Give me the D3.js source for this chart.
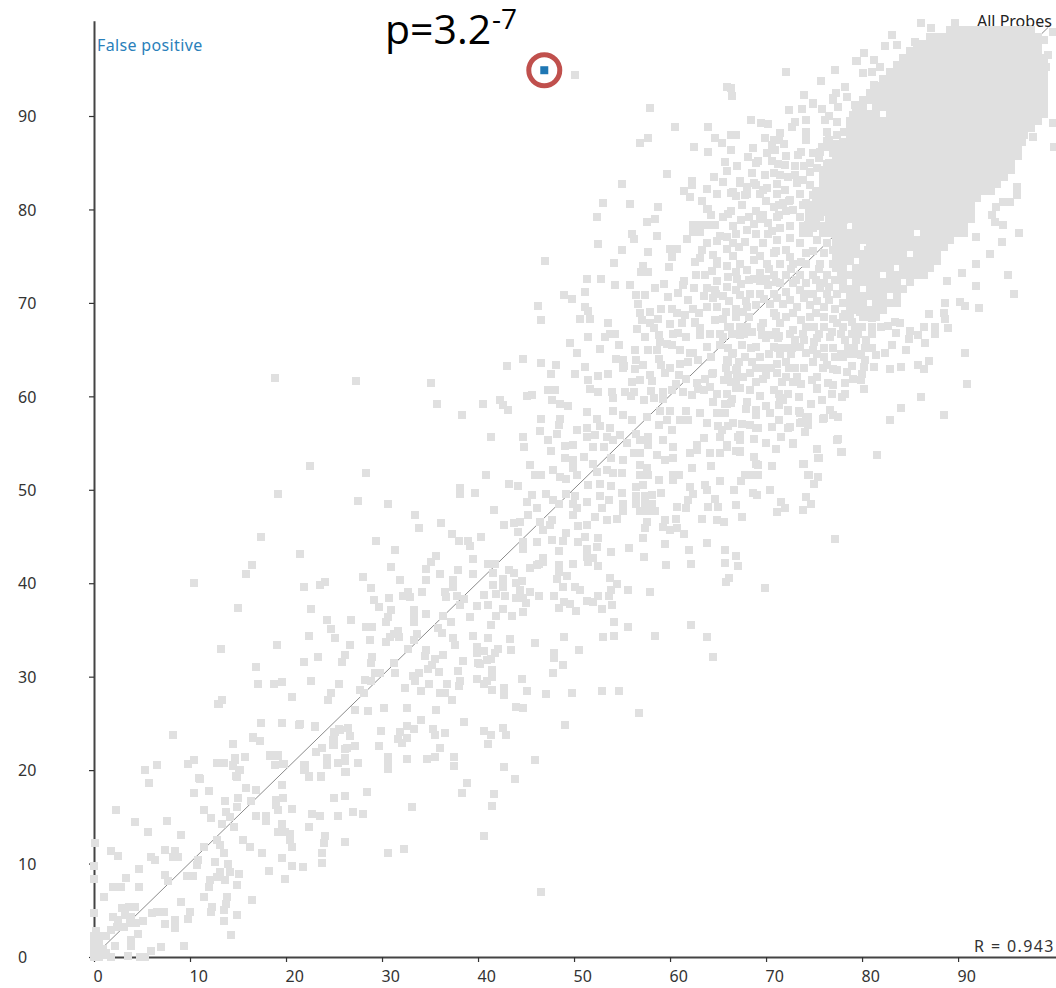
<!DOCTYPE html>
<html><head><meta charset="utf-8">
<script src="https://cdn.jsdelivr.net/npm/d3@7"></script>
<style>html,body{margin:0;padding:0;background:#fff;overflow:hidden}svg{display:block}</style>
</head><body><svg id="c" width="1056" height="988"></svg>
<script>
const xTicks=[0,10,20,30,40,50,60,70,80,90];
const yTicks=[0,10,20,30,40,50,60,70,80,90];
const falsePositive=[46.9,94.9];
const rValue="R = 0.943";
const pLabel="p=3.2";
const pExponent="-7";
const seriesName="All Probes";
const highlightName="False positive";
const identityLine=[[0.8,0.9],[99.4,99.5]];
// flat x,y lists
const cornerProbes=[0,2.2,0.5,2.2,0,1.6,0.5,1.5,0,1,0.6,0.9,0.9,0.9,0,0.4,0.5,0.4,1,0.2,0,0,0.5,0,1.3,0.4,0.2,2.8,1.8,0,3.5,0.1,4.8,0,5.3,0,2.2,1.2,3.9,1.8,3.9,1.2,7,1.1,9.4,1.2,5.9,0.6,0,4.7,2.9,5.2,3.6,5.4,4.3,5.4,2,4.3,2.5,4,3.2,4.5,3.9,4.3,2.4,3.2,3.1,3.2,3.8,3.6,4.4,3.6,5.1,3.8,6,4.7,6.6,4.8,7.3,4.8,4.6,2.5,1.2,2.3,1.8,2.9,7.4,3.5,8.4,4,8.4,3.1,10,4.8,9.75,4.1,46.6,7];
const lowProbes=[12.95,27.1,8.26,23.8,17.4,25,19.6,25,21.4,24.8,23,24.6,14.5,22.8,16.6,23.4,17.3,23.1,6.6,20.5,5.3,20,5.7,18.6,10.4,21.1,9.75,20.7,11,19.1,10.4,17.6,12,17.8,12.8,20.8,13.5,20.8,14.7,21.1,14.5,20.4,15.7,21.4,15.1,20,14.9,19.3,18.3,21.5,19.2,21.5,18.9,20.5,19.8,20.7,25.1,24.1,24.9,23.2,24.9,22.7,25.6,24.3,23.8,22.4,23.1,21.9,24.3,21.1,24.3,20.5,25.4,20.8,26.1,21,21.9,20.5,21.9,20,22.4,19.3,23.6,19.3,26.1,19.8,26.1,22.3,19.6,18.4,15.8,18.1,16.9,17.9,15,17,13.6,16.7,16.4,16.7,14.9,16,11.5,15.7,12.2,14.9,13.8,15.5,14.2,15,2.3,15.7,4.3,14.4,7.6,14.6,5.6,13.4,9.1,13.1,13.3,14.2,14.6,13.9,16.9,15.1,17.9,15.1,17.9,14.6,19,16.8,19.7,17,19,16.3,19.2,15.7,20.6,15.8,22.7,15.3,23.5,15.1,25.4,15.1,25,17,26.1,17.2,19.6,14.2,19.2,13.4,19.9,13.4,20.4,13.2,20.4,12.5,20.6,11.8,22.4,13.9,24.1,12.9,24,12.2,23.8,11.1,23.8,10.1,26.1,12.3,12.8,12.5,13.1,12,11.5,11.8,13.5,11.1,15.5,12.5,16.2,11.8,17.5,11.1,19.6,10.6,20.6,9.7,21.8,9.6,18.2,9.2,19.9,8.3,10.8,10.4,10.7,9.8,12.6,10.2,14,9.9,14.2,9.1,15.1,8.9,13.1,9.1,12.8,8.6,12.1,8.2,13.6,8.2,12,7.5,14.9,7.7,7.4,11.4,8.4,11.3,8.2,10.7,8.8,10.7,5.9,10.7,6.4,10.4,1.8,11.3,2.5,10.8,0.1,12.2,0,9.7,0,8.3,4.7,9.4,3.3,8.5,7.4,8.8,7.7,8.1,9.65,8.7,10.3,8.7,2,7.5,2.8,7.5,4.7,7.5,1,6.4,9.1,5.9,11.5,6.4,13.9,6.4,13.8,5.7,13.5,5,12.3,5.4,12.2,4.8,16.5,6.1,14.9,4.5,13.5,3.8,14.3,2.4];
const midLowProbes=[19.2,49.5,27.5,48.8,30.6,48.5,33.4,47.3,36.1,46.4,33.8,45.9,38.1,50.2,38.1,49.6,39.7,49.7,37.3,45.3,38,44.5,39,44.5,39.2,44,17.4,45,29.4,44.5,31.4,43.6,21.5,43.1,35.6,42.9,35.1,42.3,39.5,42.6,16.5,41.9,15.8,41,30.9,41.7,34.6,41.5,36,41,37.9,41.4,39.5,41,28,40.7,31.9,40.3,34.6,40.3,10.4,40,21.9,39.6,23.5,39.8,24.1,40.1,28.9,39.5,37.4,40.3,37.4,39.6,34.2,39.1,32.7,39.1,32.2,38.6,32.9,38.5,30.7,38.4,29.2,38.2,36.6,39.1,36.7,38.5,37.8,38.6,38.5,38.3,38.1,37.7,29.7,37.5,15,37.3,22.6,37.2,30.9,37.1,33.3,37.1,33.3,36.5,33.3,35.9,34.6,36.7,39.9,37.6,30.6,36.4,30.4,35.8,24.3,36.1,26.8,36.1,36.3,36.5,39.2,36.4,37.2,35.8,28.3,35.3,29,35.3,24.7,35.1,35.8,35.2,36.2,34.7,31.7,34.9,31.2,34.6,31.8,34.2,30.8,34.2,33.6,34.6,22.4,34.4,39.5,34.4,25.1,34.1,28.7,33.9,30.4,33.7,33.3,33.9,37.4,34.1,37.6,33.4,19.1,33.4,26.7,33.4,13.2,33,32.7,33,39.9,33.2,34.6,32.9,26.1,32.3,23.3,32.1,29,32.1,34.5,32.2,36.3,32.3,39.9,32.5,21.9,31.6,25.8,31.6,28.8,31.5,31.2,31.5,35.5,31.9,35.2,31.3,38.4,31.7,40,31.5,16.9,31,34.8,30.8,35.9,30.5,37.9,30.6,29.8,30.4,29.3,30.4,31.3,30.4,33.8,30.4,33.2,30.1,33.4,29.5,22.6,29.5,28.2,29.6,28.9,29.5,39.9,29.7,38.1,29.5,17.1,29.2,18.8,29.2,19.6,29.4,25.5,29.2,34.9,29.2,36.8,29.2,38,29,27.7,28.6,32.4,28.8,34.1,28.5,24.7,28.2,28.1,28.2,36,28.2,36.6,28.2,20.6,27.8,24.4,27.5,37.3,27.5,13.3,27.5,13,27.1,27.2,26.4,28.5,26.3,30.2,26.6,32.6,26.6,35.6,26.4,34.1,25.4,38.5,25.2,17.4,25,19.6,25,21.5,24.9,23,24.7,32.6,24.7,26.5,24.5,25.5,24.4,25,24.1,26.7,23.6,25,23.4,25,22.7,29.9,24.2,33.3,24.4,31.9,24.1,31.7,23.3,32.6,23.4,32.1,22.9,35.3,24.4,35.5,23.8,36.6,24,16.6,23.5,17.3,23.1,14.5,22.8,29.7,22.6,36,22.4,27.2,22.6,26.4,22.4,23.8,22.4,23.1,21.9,18.3,21.6,19.2,21.6,15.7,21.4,14.7,21.3,26.1,21.3,24.3,21.3,24.3,20.5,25.4,20.8,27.5,20.8,30.6,21.4,30.6,20.7,30.6,20.1,32.6,21.2,34.7,21.2,35.5,21.4,37.5,21.4,37.5,20.4,12.8,20.8,13.5,20.8,10.4,21.1,9.8,20.7,14.5,20.5,15.2,20,18.9,20.5,19.7,20.7,22,20.5,22,20,22.4,19.4,23.6,19.4,26.2,19.8,10.9,19.2,14.8,19.4];
const midProbes=[41,42.1,41.8,42.1,43.2,41.4,43.7,41.1,45.4,41.6,46.1,42,46.8,42.3,48.4,42,48.4,41.2,48.2,40.5,49.9,42.1,49.3,40.8,51.5,42.3,52.5,41.8,53.7,40.6,54.5,39.9,53.9,39.3,55.6,39.3,53.6,38.6,41.6,41.1,42.6,40.4,42.6,39.6,41.6,39.8,40.6,38.7,41.9,38.9,42.8,38.6,44,40,44.6,40.2,44.4,39.3,44,38.4,44.7,38.4,45.4,39.1,45,37.9,46.3,38.6,47.9,38.6,48.9,39.6,50.1,39.6,50.6,39.3,52.5,38.6,51.3,38.1,52,38,49,38,49.6,37.8,48.4,37.4,50.2,37,52.9,37.2,54,37.7,41,37.7,42.6,37.2,41.9,36.5,43.5,36.5,44.7,36.9,41.4,35.5,54.2,35.8,55.6,35.3,54.2,34.4,53,34.2,49,34.2,43.3,34,41,34.1,45.9,33.6,50.5,32.9,43.4,32.9,42.1,33,41.8,32.5,40.6,32.7,40.9,31.8,41.4,31.9,47.9,32.5,47.9,32,48.8,31.3,40.2,31.4,47.8,30.4,41.5,30.7,41.5,30,44.6,29.7,40.9,29.5,40.6,29.2,41.5,28.6,42.7,28.8,42.7,28,45.1,28.5,47.1,28.1,49.8,28.3,52.9,28.5,54.7,28.5,44,26.8,44.7,26.6,56.8,26.1,49.1,24.8,40.6,24.2,41.4,23.8,42.6,24.5,42.9,23.8,41,22.8,45.9,21.1,42.7,20.3,43.9,19.1,38.8,18.6,38.3,17.6,41.7,17.4,41.5,16.2,33.1,16,28.4,17.7,26.1,17.2,27,15.5,28,15.3,40.6,13,26.1,12.3,32.3,11.6,30.6,11.1,18.9,62,22.5,52.5,27.3,61.6,28.3,51.8,35.1,61.4,35.7,59.2,47,74.5,46.2,69.7,46.6,68.2,49,70.8,64.5,32.1,50.1,94.4];
const centreProbes=[49.6,65.7,50.3,64.6,52.7,65.1,54.7,65.5,43,63.2,44.7,64,46.6,63.6,48.1,63.4,47.6,62.4,50.1,62.4,51.1,63.1,51.5,61.8,52.5,62.2,53.5,62.4,54.4,64,55.1,63.9,55.1,63,56.5,63.9,56.3,62.9,57.2,63.4,57.7,65,58.6,65,58.8,64,60.2,65.5,61,65,62.4,64.6,63.8,65.3,65.2,65.5,66.6,64.6,59.1,63.4,60,63,61,63.5,61.9,63.7,62.9,63.9,64.3,64.2,65.9,63.9,66.9,62.8,57.9,62.3,59.5,62.5,60.9,62.3,61.7,61.9,62.8,61.4,64.5,62.5,65.6,61.7,66.9,61.4,56,61.5,56.9,61.7,58.1,61.6,47.3,60.7,48,60.7,51.7,60.8,52.5,60.5,45.1,60,45.6,60.1,54,60.5,54.1,59.8,55.3,60.5,55.9,60,57.3,59.6,58.3,59.8,59.3,60.5,60.2,60.7,59.3,59.7,61.4,60.5,62.3,60.1,63.5,60.7,64.5,59.4,65.9,60.3,65.9,59.2,40.5,59.2,42.3,59.6,42.6,59.1,43.1,58.5,47.7,59.6,48.5,59.2,49.4,59,38.3,58,46.6,57.6,48.5,57.6,48.4,56.9,48.2,56,46.5,56.3,41.3,55.6,44.7,55.6,44.8,54.6,47.3,55.3,47.6,54.2,51.3,58.3,52.4,57.6,54.1,58.4,55.1,58,56,57.5,57.6,57.8,59,58.4,60,58.4,61.7,58.4,63.1,58.2,64.9,58.2,59.7,57.5,61,57.5,58.8,56.9,60.2,56.4,61.9,57.5,63.8,57.1,65,56.8,66.6,57.2,50.3,56.4,51.3,56.6,52.7,56.8,53.7,56.6,51.3,55.7,52.2,55.9,53.4,55.7,54.8,55.9,56.5,56,57.7,55.7,52,54.6,53.1,54.6,54.1,55.3,55.5,55,56.9,55.3,57.7,54.8,59.3,55.3,60.3,54.6,63.5,55.5,62.8,54.8,65.2,55.7,65.9,54.8,67.1,55.7,49.1,54.7,49.9,54.8,49.1,53.4,49.9,53.2,51,53.5,45.4,52.6,47.8,52.1,45.9,51.6,46.6,51.6,40.8,51.6,49.9,52.3,48.5,51.4,49.2,51.2,50.3,51.6,52,52.8,52.4,51.9,53.4,52.1,54.1,51.8,55,51.8,53.8,53.4,55.1,53.2,56.2,53.9,56.9,53.9,56.9,52.7,57.6,52.3,58.6,53.7,59.5,53.2,60.3,53.4,56.9,51.6,57.7,51.6,58.8,51.1,60.3,51.6,60.9,51.6,62.3,52.3,64.3,52.5,62.1,53.9,62.8,54.3,64.2,53.9,65.2,53.9,66.9,54.1,43.2,50.6,44.2,50.4,51.5,50.5,52.7,50.6,53.9,50.4,56.5,50.3,57.2,50.5,60.3,51,62.1,50.3,63.6,50.5,65.2,50.9,66.7,50,63.8,50,62.4,49.6,49.2,49.6,50.1,49.3,51.3,48.7,52.7,49.3,53.6,48.9,55,49.7,59.1,49.7,56.5,49.3,57.4,49.3,58.1,49.4,56.5,48.5,57.4,48.5,58.1,48.5,56.9,47.7,57.7,47.7,58.4,47.7,60.7,48.2,61.9,48.9,61.7,48,64.7,49,64,48.2,65,48.2,66.9,48.4,45.6,49.4,45.1,48.7,47.1,49.6,47.8,48.9,46.1,48,48.4,48.5,49.9,48.5,50.3,48,41.7,47.8,45.2,47.3,49.9,47.3,52.9,48,55.1,48.5,55.1,47.7,52.2,47.1,44.4,46.6,43.7,46.4,42.7,46.2,46.5,46.6,47.7,46.8,47.5,46.2,53.4,46.8,54.5,46.9,57.6,46.6,60.6,46.9,59.5,46.8,63.3,46.9,64.9,46.8,65.6,46.6,44.2,45.5,46.8,45.7,50.4,46.1,51.3,46.2,57.4,45.9,59.3,46,60,45.7,60.7,45.9,61.5,45.3,57.2,44.8,40.3,45,49.2,45.4,47.7,44.6,48.9,44.5,50.4,44.4,51.1,45,52.5,44.8,46.1,44.4,44.7,44.4,44.7,43.7,51.3,43.7,52.4,43.9,48.4,43.4,53.9,43.3,55.7,43.8,59.5,44.2,63.8,44.3,62,43.6,65.7,43.6,66.9,42.9,57.3,42.8,51.3,42.8,52,42.7,46.8,42.7,46.3,42.1,59.6,41.9,62.2,42.1,65.7,42.2,67.1,41.8,66.1,40.6,65.8,40.1,57.9,39.1,62.2,35.5,58.4,34.4,63.8,34.2,72.8,54.9,75.3,54.4,75.5,53.4,77.9,54,74,52.8,74.5,51.6,75,50.6,74.2,49.2,74.7,48.5,73.8,47.8,77.2,44.7,70.6,52.5,69.2,52.7,68.7,53.5,67.3,54,67.8,51.6,68.6,51.6,69.2,51.6,67.4,50.9,70.4,50,68.6,49.7,69.1,49.4,71.6,48.7,72,48.1,71.1,47.6,67.5,47.1,69.9,39.5];
const upperProbes=[53,80.7,55.8,80.6,58.7,80.3,52.4,79.2,57.6,78.7,58.4,79,56,77.4,56.2,76.8,58.6,77.2,52.5,76.3,55,75.7,57.7,75.5,60,75.8,60.7,75.8,60.2,74.9,54.2,74.3,57.2,74,57,73.3,57.7,73.3,59.9,73.8,51.3,72.6,52.8,72.6,54.3,71.9,55.8,71.9,61.3,71.9,62.5,71.6,51.1,71.2,49.8,70.4,56.5,70.8,57.4,70.8,56.7,69.9,59.8,70.6,61.9,70.3,51.1,69.6,51.5,69.1,50.6,68.3,51.7,68.3,59.1,69.4,60.2,69.4,60.7,68.9,56.9,68.9,57.9,69,57.1,68.2,61.6,68.7,62.4,69.4,53.5,67.9,56.6,67.2,57.9,67.8,58.9,66.6,61.2,67.8,57.4,66.3,53.7,66.7,53.2,66.4,54.3,66.7,51.5,66.4,60.3,66.7,61.7,66.4,63.1,67.3,63.1,66.6,64.7,68.2,65.5,68.3,64.2,66.7,65.2,66.7,66.2,67.4,67.3,67.4,67.3,66.6,68.5,66.9,70.4,66.6,69.7,67.8,71.5,67.8,72.1,68.5,70.8,68.9,72.8,67.1,74.2,67.4,75.3,66.2,76.7,66.4,77.4,67.8,63.8,80.1,62.4,78.3,63.1,78.3,63.8,78.3,62.4,77.6,63.1,77.6,64.7,78.3,65.5,79.2,66.6,78.2,67.5,80.5,68.2,79.2,69,79.8,69.4,79,70.8,80.3,71.8,80.7,72.8,79.9,73.9,80.5,74.9,79.9,71.1,79.2,73.5,79.2,75.6,79.2,65.9,77,66.9,77.4,68,77.8,69,77.4,70.2,77.4,71.5,78,72.5,78.2,73.9,77.8,74.9,78,76,77.8,77,78.5,63.8,76.4,64.9,76.6,63.3,75.7,63.1,74.8,64.5,75.1,65.9,75.8,66.6,76.4,67.8,76.5,66.6,75,68.7,75.7,69.7,76.4,71.1,76.7,72.5,76.9,73.5,76.4,75.3,76.7,76.3,76.4,70.8,75.3,72.1,75.7,74.2,75.3,76,75.3,77,75.7,64.9,74.2,65.9,74,67.3,74.2,68.7,74.6,70.1,74.2,71.5,74.2,72.8,74.2,74.2,74.2,75.6,74.2,77,74.2,66.9,73.3,68,73.5,69.4,73.2,70.8,73,72.1,73,73.5,73,74.9,73,76.3,73,69.4,72.3,70.2,71.9,71.5,72.1,72.8,72.1,74.2,72.1,76,72.1,77.2,72.4,64.9,72.3,63.8,71.6,64.7,71.4,65.9,71.7,66.9,71.4,63.5,70.7,64.5,70.5,65.5,70.7,67.3,70.8,68.3,71,69.4,71,70.8,71,72.1,71.2,73.5,71.4,74.9,71,76.3,71,77.4,71,63.8,69.6,64.9,69.6,66.9,69.4,68,69.6,69,69.8,70.4,69.9,71.8,69.9,73.2,69.6,74.6,69.8,76,69.6,77.2,69.4,66.9,68.5,68.2,68.5,74.6,68.5,76,68.5,67.5,65.5,69,65.3,70.8,65.3,67.8,64.2,69.4,64.2,71.1,63.5,72.1,63.7,73.5,65.3,74.9,65,76,64.2,77.2,64.2,74.9,63.7,76.3,63.4,77.4,62.8,75.3,62.1,74.8,61.7,76.5,61.4,75.3,60.9,67.6,62.1,68.3,62.5,69.7,61.9,71.1,62.5,72.1,62.1,73.2,62.1,66.9,60.9,68.3,60.7,69.4,60,70.8,60.7,71.5,59.8,71.3,59.1,72.3,60.3,75.8,59.6,76.7,58.5,77.5,57.8,75.9,57.6,69,58.5,70.4,58.2,72.3,58.5,73.4,58.4,74.2,57.6,68.3,56.9,69.2,56.6,70.6,56.7,72.5,56.7,73.5,57.1,74.1,56.2,72.8,55,75.3,54.4,77.4,55.3,75.4,53.4,73.9,52.8,70.6,52.5,68.7,53.5,69,52.8,67.3,55.9,67.3,55.3,67.3,54.1,74.4,51.6,75.4,51.4,66,67.4,68,67.4,69.5,67.4,71,66.9,73.8,66.7,75,67.4,76,67.4,78,67.4,79.3,67.4,80,67.4,81,67.4,82,67.4,66.5,66.7,67.7,66.7,70,66.2,71.2,66.2,72.5,66.7,74,66,75.5,66.7,77.8,66.7,78.9,66.7,79.6,66.7,81,66.7,78.2,66,79.4,66,80.4,66,66,65.2,68.4,65.2,71.2,65.2,72.7,65.2,74.2,64.6,76,65.2,77,65.2,78.5,65.2,79.2,65.2,80.3,65.2,81,65.2,66.5,64.5,70.3,64.5,71.5,64.5,72.6,64.5,75.3,64.5,77.8,64.5,78.6,64.5,79.5,64.5,66,63.7,67.2,63.7,68.5,63.7,69.7,63,73,63,74,63,75.9,63,65.8,63,67,63,70.5,63,66,62.3,67,62.3,70,62.3,66.4,61.5,69,61.5,71.7,61.5,72.8,61.5];
const topProbes=[72.1,94.7,77.2,94.9,75.7,93.8,79.4,95.9,78.2,93.1,65.9,93.1,66.3,93,66.5,92.1,74,92.3,74.9,91.4,77,91.7,77.5,91,79.3,91.2,57.9,90.9,68.4,89.6,69.5,89.3,70.2,89.1,73.7,90.7,74.2,89.6,73,89.4,72.7,88.8,76.1,89.6,77.4,89.4,79.1,90.1,60.5,88.8,64,88.8,74.2,88.3,74.2,87.4,76.3,88.3,77.4,88,78.1,88.3,57.7,87.6,56.9,87.1,64.7,87.6,65.4,87.1,66.3,88,66.9,88,69.9,87.7,70.8,87.4,71.3,87.4,71.9,87,70.6,86.9,62.5,86.7,66.3,86.4,64,86.2,70.9,86.4,70.1,86,72.1,85.7,73.3,85.8,73.6,86.2,74.9,86,75.8,86.7,76.7,86.7,75.6,86.2,77.9,86.7,77,86,65.7,85.1,65.9,84.1,59.7,83.8,68.5,83.9,69.9,83.7,70.8,83.9,71.5,83.7,73,84.6,73,83.7,75.3,84.4,76.3,84.9,77.4,84.9,55,82.7,62.3,83,62.3,82.6,61.5,82,62.1,81.3,63.8,82.2,64.9,81.7,67.3,82.8,66.4,81.8,66.9,81.4,68.7,82.8,69.7,82.1,71.1,82.7,71.1,81.7,68,81.7,69.4,81.7,73.2,82.8,74.6,82.6,76,83,73.5,81.7,72.5,81,74.2,80.7,66.6,81.9,68,82.4,69,82.6,70.1,82.3,72,82.1,71.3,80.5,72.1,79.8,86.1,100,87.2,99.4,89.7,100,83.1,98.7,82.4,97.5,83.6,97.6,85.5,97.9,80.2,96.7,79.5,95.9,81.2,96,81.9,95.2,81,94.7,80.1,94.6,82.7,93.9,81.2,93.3,77,91.9,74.9,91.3,74,92.2,99.4,96.5,99.2,95.2,99.9,89.3,97.8,87.8,100,86.7,98.9,98.1,99.9,99];
const rightProbes=[96.1,82.4,96.1,81.5,94,80.3,93.5,79.4,93.8,78.7,94.7,78.3,95.4,80.8,94.7,80.8,96.3,77.5,94.6,76.5,91.9,77.1,93.3,75.2,91.9,74.2,95.2,73,90.4,73.2,91.9,71.8,95.8,70.9,88.8,72.3,90.2,70.1,90.7,69.7,92.2,69.5,88.6,70,88.5,68.9,87,68.8,88.6,68.3,87.6,67.4,87.6,66.7,89,67.3,86.5,67.4,85.8,66.6,86.6,65.7,83.4,68,83.1,65.5,82.4,64.6,84.6,65,90.7,64.6,87,63.8,85.8,63.4,86.5,62.9,84.1,63.1,82.9,62.9,81.2,63.1,80.2,63.1,80.3,63.9,78.9,63.2,90.9,61.3,86.1,59.9,84.1,58.7,88.5,58,82.9,57.5,79.9,61.7,80.2,60.8,79.1,61.9,78.2,61.4,78.2,60.3,77,61.2,75.3,60.8,74.8,61.8,75.8,59.6,76.7,58.5,77,58,76,57.7,77.5,55.4,75.3,54.4,77.8,54,81.6,53.7,75.5,53.4,73.9,52.8,74.4,51.6,72.8,54.9,68,51.6,68.7,51.6,74.4,56.9,73.7,57.3,74.4,57.8,73.5,58.2,72.3,58.4,72.3,56.6,70.6,56.7,69,56.6,70.4,58.2,69,58.5,69,58,71.3,57.5,71.8,59.6,71.3,60.3,69.4,60,68.3,60.7,67.3,60.9,65.9,60.3,65.7,59.2,65.7,58.2,66.6,57.1,65.4,56.4,65.9,54.6,79,68,79.8,69,81,68.4,82.7,67.5,84,67.8,85,67,83.5,66.8,84.9,66.1];
const thickProbes=[67,72.6,68.2,72.4,70,72.6,71,72.2,73.1,72.5,75.2,72.4,67.9,70.2,69.8,70.4,71.1,70.5,72.5,70.3,74,70.5,75.3,70.2,76.6,70.3,65.8,69,67.6,69,71,68.6,72.8,68.9,73.6,68.2,75.2,68.9,77,68.3,78.2,68.8,65.5,66.4,69.6,66.6,71.4,66.5,73,66,76.9,66.9,72,65.2,75,65.8,78,64.2,79.9,64.4,81.5,64.4,69,63,72.4,63,77,62.9,78.4,62.6,80,62.4,73.6,61.3,76.9,60.2,77.9,59.9,64.4,62.4,64.2,61,66.5,59.7,68,59.4,70,59,73.4,59.9,74.7,59.2,66,56.8,71.6,55.6,65.2,77.2,64.3,79.4,66.4,79.8,67.4,78.9,67.8,81.6,70,80.9,72.4,80.9,71.4,79.4,70.2,78.6,68.7,78.4,67.2,76,69.4,75,70.3,73.6,72.6,73.6,74.9,75.6,73.6,74.4,75.5,73.6,76.6,71.7,75.6,71.6,74.4,70.9,72.5,74.9,71,75.6,70.6,77.7,68.7,72.6,67.4,72,63.6,73,64.4,73.4,66,72.8,66.1,70.2,64.8,70.9,63,68.9,62.6,68,60.8,66.8,59,65.8,58.3,67.3,76.6,87.4,75.5,85.5,74.6,85,74,84.7,74.6,84,76.3,82.2,74.9,81.6,73.8,83.2,72.3,83.5,72,84.8,71.2,84.9,70.6,85.2,69,85,68.1,85.6,67,84.6,67.3,83,65.5,82.9,64.6,83.5,63.3,80.9,64,80.1,66,79.5,74.4,78.3,77.1,80.8,76.3,79.7,77.9,78.5,79.9,76.7,80.6,75.7,81.2,73.3,77.8,72.9,77.3,92.5,75.8,90.8,76.6,90,78.4,92,79.1,88.9,76.3,87.3,77.2,87,72.4,90.6,71.5,88.2,68.6,86.6,69.2,85.2,69.7,79.4,64.9,74.5,62.7,73,61.8,76.8,62.6,74.4,61.5,72.3,60.8,71.1,59.4,72,58.4,71.6,58.7,68.3,60,67.7,62.6,67.9,62.1,64.6,59.7,65.6,63.6,61.9,62.9,60.8,64.9,60.2,66.4,59.3,67.9,58.6,67.5,57,68.7,55.4,70,55,71,54.4,60.6,61.3,58,60.6,56.2,60.5,55.2,63.3,56.3,65];
// solid core: y of each row, then the x of the probes on that row
const coreY=[99.2,98.5,97.7,97,96.2,95.5,94.7,94,93.2,92.5,91.7,91,90.2,89.5,88.7,88,87.2,86.5,85.7,85,84.2,83.5,82.7,82,81.2,80.5,79.7,79,78.2,77.5,76.7,76,75.2,74.5,73.7,73,72.2,71.5,70.7,70,69.2,68.5];
const coreX=[
[89.2,89.9,90.6,91.3,92,92.7,93.4,94.1,94.8,95.5,96.2,96.9,97.6],
[87.1,87.8,88.5,89.2,89.9,90.6,91.3,92,92.7,93.4,94.1,94.8,95.5,96.2,96.9,97.6,98.3],
[85.7,86.4,87.1,87.8,88.5,89.2,89.9,90.6,91.3,92,92.7,93.4,94.1,94.8,95.5,96.2,96.9,97.6,98.3],
[85,85.7,86.4,87.1,87.8,88.5,89.2,89.9,90.6,91.3,92,92.7,93.4,94.1,94.8,95.5,96.2,96.9,97.6,98.3],
[84.3,85,85.7,86.4,87.1,87.8,88.5,89.2,89.9,90.6,91.3,92,92.7,93.4,94.1,94.8,95.5,96.2,96.9,97.6,98.3,98.9],
[83.6,84.3,85,85.7,86.4,87.1,87.8,88.5,89.2,89.9,90.6,91.3,92,92.7,93.4,94.1,94.8,95.5,96.2,96.9,97.6,98.3,98.9],
[82.9,83.6,84.3,85,85.7,86.4,87.1,87.8,88.5,89.2,89.9,90.6,91.3,92,92.7,93.4,94.1,94.8,95.5,96.2,96.9,97.6,98.3,98.9],
[82.2,82.9,83.6,84.3,85,85.7,86.4,87.1,87.8,88.5,89.2,89.9,90.6,91.3,92,92.7,93.4,94.1,94.8,95.5,96.2,96.9,97.6,98.3,98.9],
[81.5,82.2,82.9,83.6,84.3,85,85.7,86.4,87.1,87.8,88.5,89.2,89.9,90.6,91.3,92,92.7,93.4,94.1,94.8,95.5,96.2,96.9,97.6,98.3,98.9],
[80.8,81.5,82.2,82.9,83.6,84.3,85,85.7,86.4,87.1,87.8,88.5,89.2,89.9,90.6,91.3,92,92.7,93.4,94.1,94.8,95.5,96.2,96.9,97.6,98.3,99],
[80.1,80.8,81.5,82.2,82.9,83.6,84.3,85,85.7,86.4,87.1,87.8,88.5,89.2,89.9,90.6,91.3,92,92.7,93.4,94.1,94.8,95.5,96.2,96.9,97.6,98.3,99],
[79.4,80.1,81.5,82.2,82.9,83.6,84.3,85,85.7,86.4,87.1,87.8,88.5,89.2,89.9,90.6,91.3,92,92.7,93.4,94.1,94.8,95.5,96.2,96.9,97.6,98.3,99],
[79.4,80.1,80.8,81.5,82.9,83.6,84.3,85,85.7,86.4,87.1,87.8,88.5,89.2,89.9,90.6,91.3,92,92.7,93.4,94.1,94.8,95.5,96.2,96.9,97.6,98.3,98.9],
[78.7,79.4,80.1,80.8,81.5,82.2,82.9,83.6,84.3,85,85.7,86.4,87.1,87.8,88.5,89.2,89.9,90.6,91.3,92,92.7,93.4,94.1,94.8,95.5,96.2,96.9,97.6,98.3],
[78.7,79.4,80.1,80.8,81.5,82.2,82.9,83.6,84.3,85,85.7,86.4,87.1,87.8,88.5,89.2,89.9,90.6,91.3,92,92.7,93.4,94.1,94.8,95.5,96.2,96.9,97.6],
[78.7,79.4,80.1,80.8,81.5,82.2,82.9,83.6,84.3,85,85.7,86.4,87.1,87.8,88.5,89.2,89.9,90.6,91.3,92,92.7,93.4,94.1,94.8,95.5,96.2,96.9],
[78,78.7,79.4,80.1,80.8,81.5,82.2,82.9,83.6,84.3,85,85.7,86.4,87.1,87.8,88.5,89.2,89.9,90.6,91.3,92,92.7,93.4,94.1,94.8,95.5,96.2,96.7],
[77.3,78,78.7,79.4,80.1,80.8,81.5,82.2,82.9,83.6,84.3,85,85.7,86.4,87.1,87.8,88.5,89.2,89.9,90.6,91.3,92,92.7,93.4,94.1,94.8,95.5,96.2],
[77.3,78,78.7,79.4,80.1,80.8,81.5,82.2,82.9,83.6,84.3,85,85.7,86.4,87.1,87.8,88.5,89.2,89.9,90.6,91.3,92,92.7,93.4,94.1,94.8,95.5,96.2],
[76.6,77.3,78,78.7,79.4,80.1,80.8,81.5,82.2,82.9,83.6,84.3,85,85.7,86.4,87.1,87.8,88.5,89.2,89.9,90.6,91.3,92,92.7,93.4,94.1,94.8,95.5],
[75.9,76.6,77.3,78,78.7,79.4,80.1,80.8,81.5,82.2,82.9,83.6,84.3,85,85.7,86.4,87.1,87.8,88.5,89.2,89.9,90.6,91.3,92,92.7,93.4,94.1,94.8,95.5],
[75.9,76.6,77.3,78,78.7,79.4,80.1,80.8,81.5,82.2,82.9,83.6,84.3,85,85.7,86.4,87.1,87.8,88.5,89.2,89.9,90.6,91.3,92,92.7,93.4,94.1,94.8],
[75.9,76.6,77.3,78,78.7,79.4,80.1,80.8,81.5,82.2,82.9,83.6,84.3,85,85.7,86.4,87.1,87.8,88.5,89.2,89.9,90.6,91.3,92,92.7,93.4,94.1],
[75.2,75.9,76.6,77.3,78,78.7,79.4,80.1,80.8,81.5,82.2,82.9,83.6,84.3,85,85.7,86.4,87.1,87.8,88.5,89.2,89.9,90.6,91.3,92,92.7,93.4],
[75.2,75.9,76.6,77.3,78,78.7,79.4,80.1,80.8,81.5,82.2,82.9,83.6,84.3,85,85.7,86.4,87.1,87.8,88.5,89.2,89.9,90.6,91.3,92],
[74.5,75.2,75.9,76.6,77.3,78,78.7,79.4,80.1,80.8,81.5,82.2,82.9,83.6,84.3,85,85.7,86.4,87.1,87.8,88.5,89.2,89.9,90.6,91.3],
[74.5,75.2,75.9,76.6,77.3,78,78.7,79.4,80.1,80.8,81.5,82.2,82.9,83.6,84.3,85,85.7,86.4,87.1,87.8,88.5,89.2,89.9,90.6,91.3],
[74.5,75.2,76.6,77.3,78,78.7,79.4,80.1,80.8,81.5,82.2,82.9,83.6,84.3,85,85.7,86.4,87.1,87.8,88.5,89.2,89.9,90.6,91.3],
[73.8,74.5,75.2,75.9,76.6,77.3,78,79.4,80.1,80.8,81.5,82.2,82.9,83.6,84.3,85,85.7,86.4,87.1,87.8,88.5,89.2,89.9,90.6],
[73.8,74.5,75.9,76.6,77.3,78,78.7,79.4,80.1,80.8,81.5,82.2,82.9,83.6,84.3,85,86.4,87.1,87.8,88.5,89.2,89.9,90.6],
[77.3,78,78.7,79.4,80.1,80.8,81.5,82.2,82.9,83.6,84.3,85,85.7,86.4,87.1,87.8,88.5,89.2],
[77.3,78,78.7,79.4,80.8,81.5,82.2,82.9,83.6,84.3,85,85.7,86.4,87.1,87.8,88.5],
[77.3,78,78.7,79.4,80.1,80.8,81.5,82.2,82.9,83.6,84.3,85.7,86.4,87.1,87.8],
[77.3,78,78.7,80.1,80.8,81.5,82.2,82.9,83.6,84.3,85,85.7,86.4,87.1,87.8],
[77.3,78,79.4,80.1,80.8,81.5,82.2,82.9,84.3,85,85.7,86.4,87.1],
[78,78.7,79.4,80.1,80.8,81.5,82.9,83.6,84.3,85,85.7,86.4],
[78,79.4,80.1,80.8,81.5,82.2,82.9,83.6,85],
[78,78.7,79.4,80.8,81.5,82.2,82.9,83.6,84.3],
[78.7,79.4,80.1,80.8,81.5,82.2,83.6],
[78,78.7,79.4,80.1,81.5,82.2,82.9,83.6],
[78.7,79.4,80.1,80.8,81.5,82.2],
[78,78.7,80.1,80.8,81.5]
];
const svg=d3.select("#c");
const x=d3.scaleLinear().domain([0,100.2]).range([94,1056]);
const y=d3.scaleLinear().domain([0,100.2]).range([957,20.7]);
const labelFont='"Noto Sans",sans-serif';
const gx=svg.append("g").attr("transform","translate(0,957)").call(d3.axisBottom(x).tickValues(xTicks).tickSize(5).tickSizeOuter(0));
gx.selectAll("text").attr("text-anchor","start").attr("x",-1).attr("y",14).attr("dy","0.71em").style("font",'16px '+labelFont).attr("fill","#333");
const gy=svg.append("g").attr("transform","translate(94,0)").call(d3.axisLeft(y).tickValues(yTicks).tickSize(5).tickSizeOuter(0));
gy.selectAll("text").attr("text-anchor","start").attr("x",-76).attr("dy","0.36em").style("font",'16px '+labelFont).attr("fill","#333");
svg.selectAll(".domain").attr("stroke","#444").attr("stroke-width",2);
svg.selectAll(".tick line").attr("stroke","#333").attr("stroke-width",1.2);
svg.append("path").attr("d",d3.line().x(d=>x(d[0])).y(d=>y(d[1]))(identityLine)).attr("stroke","#8a8a8a").attr("stroke-width",1).attr("fill","none");
svg.append("text").attr("x",977).attr("y",27).text(seriesName).style("font",'16px '+labelFont).attr("fill","#222");
function pairsOf(f){const o=[];for(let i=0;i<f.length;i+=2)o.push([f[i],f[i+1]]);return o;}
const probes=[].concat(pairsOf(cornerProbes),pairsOf(lowProbes),pairsOf(midLowProbes),pairsOf(midProbes),pairsOf(centreProbes),pairsOf(upperProbes),pairsOf(topProbes),pairsOf(rightProbes),pairsOf(thickProbes));
coreY.forEach((v,i)=>coreX[i].forEach(u=>probes.push([u,v])));
const S=8;
svg.append("g").attr("shape-rendering","crispEdges").selectAll("rect").data(probes).join("rect")
 .attr("x",d=>x(d[0])-S/2).attr("y",d=>y(d[1])-S/2).attr("width",S).attr("height",S).attr("fill","#e0e0e0");
svg.append("rect").attr("x",x(falsePositive[0])-4).attr("y",y(falsePositive[1])-4).attr("width",8).attr("height",8).attr("fill","#1f77b4");
svg.append("circle").attr("cx",x(falsePositive[0])).attr("cy",y(falsePositive[1])).attr("r",15.5).attr("fill","none").attr("stroke","#c0504d").attr("stroke-width",5);
svg.append("text").attr("x",97).attr("y",51).text(highlightName).style("font",'16px '+labelFont).style("letter-spacing","0.35px").attr("fill","#2a7fba");
svg.append("text").attr("x",974).attr("y",952).text(rValue).style("font",'16px '+labelFont).style("letter-spacing","1.4px").attr("fill","#333");
svg.append("text").attr("x",385).attr("y",44).text(pLabel).style("font",'41px "Open Sans",sans-serif').attr("fill","#000");
svg.append("text").attr("x",492).attr("y",29).text(pExponent).style("font",'28px "Open Sans",sans-serif').attr("fill","#000");
</script></body></html>
